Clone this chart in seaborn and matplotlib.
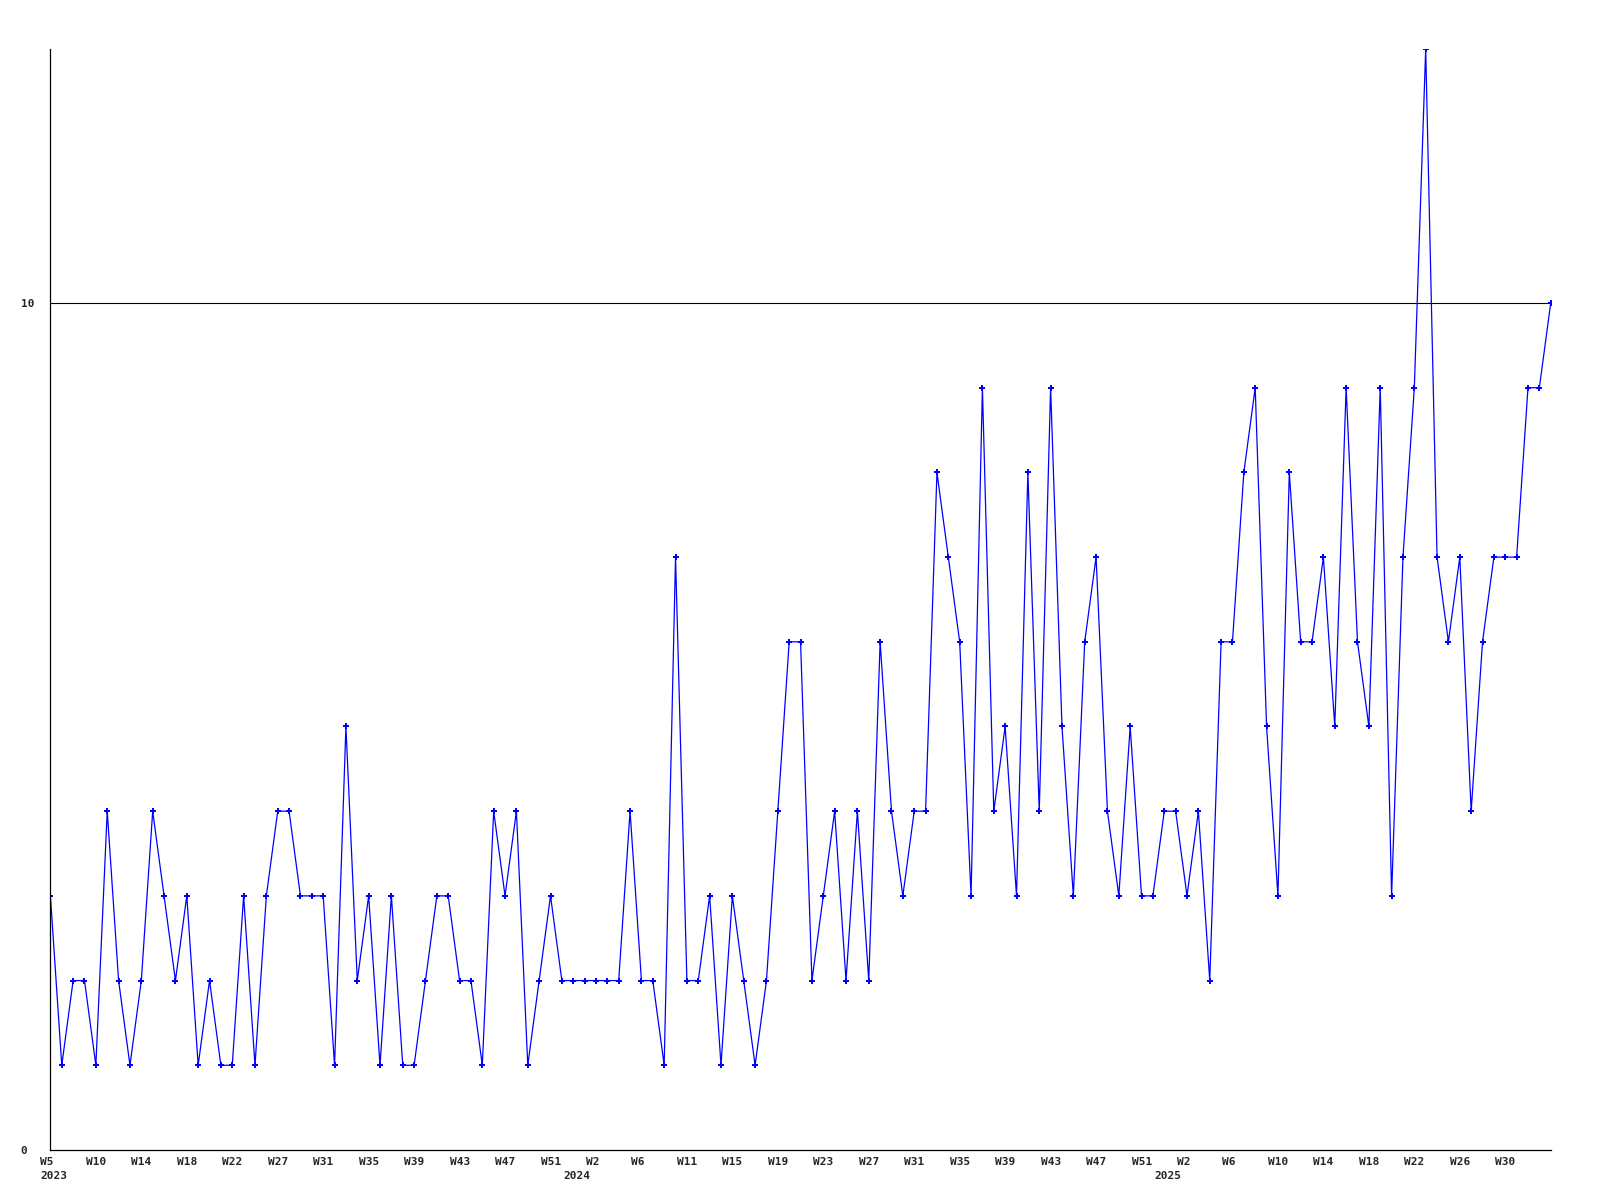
import matplotlib
matplotlib.use("Agg")
import matplotlib.pyplot as plt
import matplotlib.transforms as mtransforms
import seaborn as sns
import numpy as np
import pandas as pd

# weekly counts, 2023 W5 -> 2025 W33
counts_2023 = [3, 1, 2, 2, 1, 4, 2, 1, 2, 4, 3, 2, 3, 1, 2, 1, 1, 3, 1, 3,
               4, 4, 3, 3, 3, 1, 5, 2, 3, 1, 3, 1, 1, 2, 3, 3, 2, 2, 1, 4,
               3, 4, 1, 2, 3, 2, 2, 2]
counts_2024 = [2, 2, 2, 4, 2, 2, 1, 7, 2, 2, 3, 1, 3, 2, 1, 2, 4, 6, 6, 2,
               3, 4, 2, 4, 2, 6, 4, 3, 4, 4, 8, 7, 6, 3, 9, 4, 5, 3, 8, 4,
               9, 5, 3, 6, 7, 4, 3, 5, 3, 3, 4, 4]
counts_2025 = [3, 4, 2, 6, 6, 8, 9, 5, 3, 8, 6, 6, 7, 5, 9, 6, 5, 9, 3, 7,
               9, 13, 7, 6, 7, 4, 6, 7, 7, 7, 9, 9, 10]

week_labels = ["W5", "W10", "W14", "W18", "W22", "W27", "W31", "W35", "W39",
               "W43", "W47", "W51", "W2", "W6", "W11", "W15", "W19", "W23",
               "W27", "W31", "W35", "W39", "W43", "W47", "W51", "W2", "W6",
               "W10", "W14", "W18", "W22", "W26", "W30"]
year_labels = ["2023", "2024", "2025"]
year_start_idx = [0, 46, 98]

values = counts_2023 + counts_2024 + counts_2025
df = pd.DataFrame({"idx": np.arange(len(values)), "count": values})

sns.set_style("white")
plt.rcParams["font.family"] = ["DejaVu Sans Mono"]

fig = plt.figure(figsize=(16, 12), dpi=100)
ax = fig.add_axes([0.0315, 0.0417, 0.9377, 0.9175])

sns.lineplot(data=df, x="idx", y="count", ax=ax, color="#0000ff",
             linewidth=0.9, marker="P", markersize=4.5,
             markeredgewidth=0, markerfacecolor="#0000ff")

ax.axhline(10, color="black", linewidth=0.8, zorder=0)

for side in ["top", "right"]:
    ax.spines[side].set_visible(False)
for side in ["left", "bottom"]:
    ax.spines[side].set_color("black")
    ax.spines[side].set_linewidth(0.9)

ax.set_xticks([4 * i for i in range(len(week_labels))])
ax.set_xticklabels(week_labels, ha="left", fontsize=8, fontweight="bold")
ax.set_yticks([0, 10])
ax.set_yticklabels(["0", "10"], ha="left", fontsize=8, fontweight="bold")
ax.tick_params(axis="x", length=0, pad=5)
ax.tick_params(axis="y", length=0, pad=21.5)
ax.set_xlim(0, len(values) - 1)
ax.set_ylim(0, 13)

# week labels start a little left of their point
shift = mtransforms.ScaledTranslation(-0.1, 0, fig.dpi_scale_trans)
for lab in ax.get_xticklabels():
    lab.set_transform(lab.get_transform() + shift)

trans = mtransforms.blended_transform_factory(ax.transData, ax.transAxes) + shift
for lab, start in zip(year_labels, year_start_idx):
    ax.text(start, -0.019, lab, transform=trans, ha="left", va="top",
            fontsize=8, fontweight="bold", clip_on=False)

ax.set_xlabel("")
ax.set_ylabel("")

fig.savefig("out.png", dpi=100)
